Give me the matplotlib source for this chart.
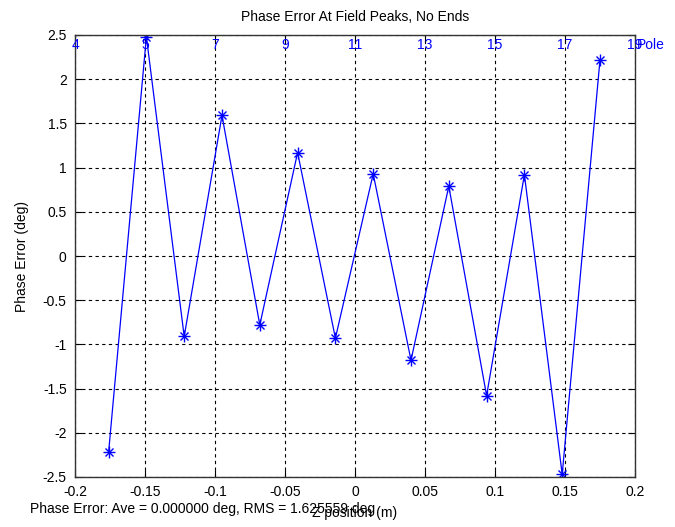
import matplotlib
matplotlib.use('Agg')
import matplotlib.pyplot as plt
import matplotlib.transforms as mtransforms
import numpy as np

# peak positions (m) and phase error (deg)
z_pos = [-0.176, -0.149, -0.122, -0.095, -0.068, -0.041, -0.014,
         0.013, 0.040, 0.067, 0.094, 0.121, 0.148, 0.175]
phase_err = [-2.22, 2.48, -0.91, 1.59, -0.78, 1.17, -0.93,
             0.93, -1.18, 0.79, -1.58, 0.92, -2.47, 2.22]

x_ticks = [-0.2, -0.15, -0.1, -0.05, 0, 0.05, 0.1, 0.15, 0.2]
x_labels = ['-0.2', '-0.15', '-0.1', '-0.05', '0', '0.05', '0.1', '0.15', '0.2']
y_ticks = [-2.5, -2, -1.5, -1, -0.5, 0, 0.5, 1, 1.5, 2, 2.5]
pole_labels = ['4', '5', '7', '9', '11', '13', '15', '17', '19']

plt.rcParams['font.family'] = ['Liberation Sans', 'DejaVu Sans']
plt.rcParams['font.size'] = 10

fig = plt.figure(figsize=(6.75, 5.27), dpi=100)
ax = fig.add_axes([75 / 675, 1 - 477 / 527, 560 / 675, 442 / 527])

# matlab '*' marker = plus and cross on top of each other
ax.plot(z_pos, phase_err, color='#0000ff', linewidth=0.9)
ax.plot(z_pos, phase_err, color='#0000ff', linestyle='none',
        marker='+', markersize=8, markeredgewidth=1.0)
ax.plot(z_pos, phase_err, color='#0000ff', linestyle='none',
        marker='x', markersize=5.5, markeredgewidth=1.0)

ax.set_xlim(-0.2, 0.2)
ax.set_ylim(-2.5, 2.5)
ax.set_xticks(x_ticks)
ax.set_xticklabels(x_labels)
ax.set_yticks(y_ticks)
ax.set_yticklabels(['%g' % v for v in y_ticks])

# matlab-ish grid and ticks
ax.grid(True, color='black', linestyle=(0, (3, 3)), linewidth=0.8)
ax.tick_params(direction='in', length=5, top=True, right=True)
ax.tick_params(axis='x', pad=6)
ax.tick_params(axis='y', pad=6)
for s in ax.spines.values():
    s.set_color('#333333')
    s.set_linewidth(1.0)

ax.set_title('Phase Error At Field Peaks, No Ends', fontsize=10, pad=10)
ax.set_ylabel('Phase Error (deg)', fontsize=10, labelpad=10)
ax.set_xlabel('Z position (m)', fontsize=10, labelpad=5)

# pole numbers along the top edge
trans = mtransforms.blended_transform_factory(ax.transData, ax.transAxes)
for xv, lab in zip(x_ticks, pole_labels):
    ax.text(xv, 0.993, lab, transform=trans, color='#0000ff',
            ha='center', va='top', fontsize=10)
ax.text(1.003, 0.993, 'Pole', transform=ax.transAxes, color='#0000ff',
        ha='left', va='top', fontsize=10)

fig.text(30 / 675, 1 - 509 / 527,
         'Phase Error: Ave = 0.000000 deg, RMS = 1.625559 deg',
         ha='left', va='center', fontsize=10)

fig.savefig('out.png', dpi=100, facecolor='white')
